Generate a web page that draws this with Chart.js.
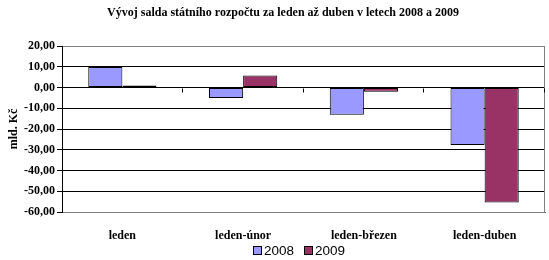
<!DOCTYPE html>
<html><head><meta charset="utf-8">
<script src="https://cdn.jsdelivr.net/npm/chart.js@4/dist/chart.umd.min.js"></script>
<style>html,body{margin:0;padding:0;background:#fff}#wrap{width:549px;height:260px}</style>
</head><body><div id="wrap"><canvas id="c" width="549" height="260"></canvas></div>
<script>
const categories = ['leden', 'leden-únor', 'leden-březen', 'leden-duben'];
const series2008 = [9.9, -5.0, -13.1, -27.7];
const series2009 = [1.0, 5.8, -2.0, -55.4];
const seriesNames = ['2008', '2009'];
const titleText = 'Vývoj salda státního rozpočtu za leden až duben v letech 2008 a 2009';
const yTitle = 'mld. Kč';
const yMin = -60, yMax = 20, yStep = 10;

const colors = ['#9999FF', '#993366'];
const serif = '"Liberation Serif", "Times New Roman", serif';

const extras = {
  id: 'extras',
  beforeDatasetsDraw(chart) {
    const {ctx, chartArea: a, scales} = chart;
    ctx.save();
    ctx.strokeStyle = '#808080';
    ctx.lineWidth = 1;
    ctx.beginPath();
    ctx.moveTo(Math.round(a.right) - 0.5, a.top);
    ctx.lineTo(Math.round(a.right) - 0.5, a.bottom);
    ctx.stroke();
    const y0 = Math.round(scales.y.getPixelForValue(0)) + 0.5;
    ctx.strokeStyle = '#000';
    const n = categories.length;
    ctx.beginPath();
    for (let i = 1; i <= n; i++) {
      const x = Math.round(a.left + (a.right - a.left) * i / n) - 0.5;
      ctx.moveTo(x, y0);
      ctx.lineTo(x, y0 + 4);
    }
    ctx.stroke();
    ctx.restore();
  },
  afterDraw(chart) {
    const {ctx} = chart;
    ctx.save();
    ctx.fillStyle = '#000';
    ctx.font = 'bold 12px ' + serif;
    ctx.textAlign = 'center';
    ctx.textBaseline = 'middle';
    ctx.fillText(titleText, 283, 13);
    ctx.font = '13.5px "Liberation Sans", Arial, sans-serif';
    ctx.textAlign = 'left';
    const xs = [253, 304];
    seriesNames.forEach((name, i) => {
      ctx.fillStyle = colors[i];
      ctx.fillRect(xs[i], 246, 9, 9);
      ctx.strokeStyle = '#000';
      ctx.lineWidth = 1;
      ctx.strokeRect(xs[i] + 0.5, 246.5, 8, 8);
      ctx.fillStyle = '#000';
      ctx.fillText(name, xs[i] + 11, 251);
    });
    ctx.restore();
  }
};

new Chart(document.getElementById('c'), {
  type: 'bar',
  data: {
    labels: categories,
    datasets: [
      {label: seriesNames[0], data: series2008, backgroundColor: colors[0], borderColor: '#000', borderWidth: 1, borderSkipped: false},
      {label: seriesNames[1], data: series2009, backgroundColor: colors[1], borderColor: '#000', borderWidth: 1, borderSkipped: false}
    ]
  },
  options: {
    responsive: false,
    animation: false,
    devicePixelRatio: 1,
    layout: {padding: {top: 46, right: 4, bottom: 0, left: 0}},
    datasets: {bar: {categoryPercentage: 0.565, barPercentage: 1.0}},
    plugins: {legend: {display: false}, title: {display: false}, tooltip: {enabled: false}},
    scales: {
      x: {
        afterFit: s => { s.height = 48; },
        grid: {display: false},
        border: {display: true, color: '#808080'},
        ticks: {color: '#000', font: {family: serif, weight: 'bold', size: 12}, padding: 9, maxRotation: 0}
      },
      y: {
        min: yMin, max: yMax,
        afterFit: s => { s.width = 62; },
        border: {display: true, color: '#000'},
        grid: {
          color: c => (c.tick && (c.tick.value === yMax || c.tick.value === yMin)) ? '#808080' : '#000',
          tickColor: '#000', tickLength: 5, drawTicks: true
        },
        ticks: {
          stepSize: yStep, color: '#000', padding: 2,
          font: {family: serif, weight: 'bold', size: 12},
          callback: v => v.toFixed(2).replace('.', ',')
        },
        title: {display: true, text: yTitle, color: '#000', font: {family: serif, weight: 'bold', size: 12}, padding: {top: 7, bottom: 0}}
      }
    }
  },
  plugins: [extras]
});
</script></body></html>
